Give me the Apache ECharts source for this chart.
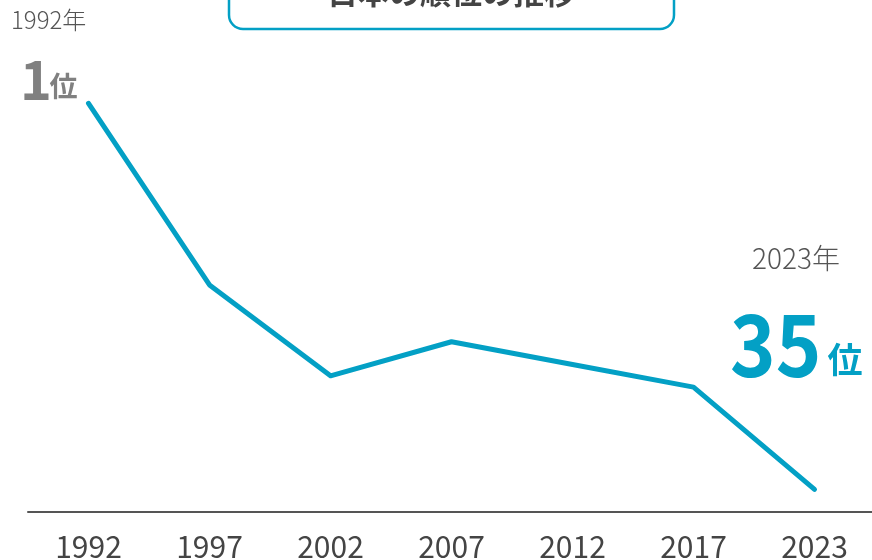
<!DOCTYPE html>
<html>
<head>
<meta charset="utf-8">
<script src="https://cdn.jsdelivr.net/npm/echarts@6/dist/echarts.min.js"></script>
<style>
  html, body { margin: 0; padding: 0; background: #fff; }
  #chart { width: 872px; height: 560px; }
</style>
</head>
<body>
<div id="chart"></div>
<script>
// 年（横軸）
const years = ['1992', '1997', '2002', '2007', '2012', '2017', '2023'];
// 日本の順位
const ranks = [1, 17, 25, 22, 24, 26, 35];

const teal = '#03a0c5';
const jp = '"Noto Sans CJK JP", "Noto Sans", sans-serif';

let myChart = echarts.init(document.getElementById('chart'));

let option = {
  animation: false,
  grid: { left: 28, width: 847, top: 92, bottom: 48, outerBoundsMode: 'none' },
  xAxis: {
    type: 'category',
    data: years,
    boundaryGap: true,
    axisLine: { onZero: false, lineStyle: { color: '#555', width: 2 } },
    axisTick: { show: false },
    axisLabel: {
      color: '#444',
      fontSize: 30,
      fontFamily: jp,
      margin: 20
    }
  },
  yAxis: {
    type: 'value',
    inverse: true, // 順位なので上が1位
    min: 0,
    max: 37,
    show: false
  },
  series: [
    {
      type: 'line',
      data: ranks,
      symbol: 'none',
      lineStyle: { color: teal, width: 5, cap: 'round', join: 'round' }
    }
  ],
  graphic: [
    // タイトルの枠（上が切れている）
    {
      type: 'rect',
      shape: { x: 229, y: -40, width: 445, height: 69, r: 14 },
      style: { fill: '#fff', stroke: teal, lineWidth: 2.5 }
    },
    {
      type: 'text',
      x: 451, y: -8,
      style: {
        text: '日本の順位の推移',
        font: 'bold 31px ' + jp,
        fill: '#444',
        align: 'center',
        verticalAlign: 'middle'
      }
    },
    // 1992年 1位
    {
      type: 'text',
      x: 11, y: 20,
      style: { text: '1992年', font: '300 24px ' + jp, fill: '#555', verticalAlign: 'middle' }
    },
    {
      type: 'text',
      x: 20, y: 79,
      style: { text: '1', font: 'bold 54px ' + jp, fill: '#808080', verticalAlign: 'middle' }
    },
    {
      type: 'text',
      x: 63.5, y: 86,
      style: { text: '位', font: 'bold 28px ' + jp, fill: '#808080', align: 'center', verticalAlign: 'middle' }
    },
    // 2023年 35位
    {
      type: 'text',
      x: 796, y: 258,
      style: { text: '2023年', font: '300 28px ' + jp, fill: '#555', align: 'center', verticalAlign: 'middle' }
    },
    {
      type: 'text',
      x: 730, y: 344,
      scaleX: 0.9,
      originX: 0,
      style: { text: '35', font: 'bold 86px ' + jp, fill: teal, verticalAlign: 'middle' }
    },
    {
      type: 'text',
      x: 845, y: 360,
      style: { text: '位', font: 'bold 35px ' + jp, fill: teal, align: 'center', verticalAlign: 'middle' }
    }
  ]
};

myChart.setOption(option);
</script>
</body>
</html>
